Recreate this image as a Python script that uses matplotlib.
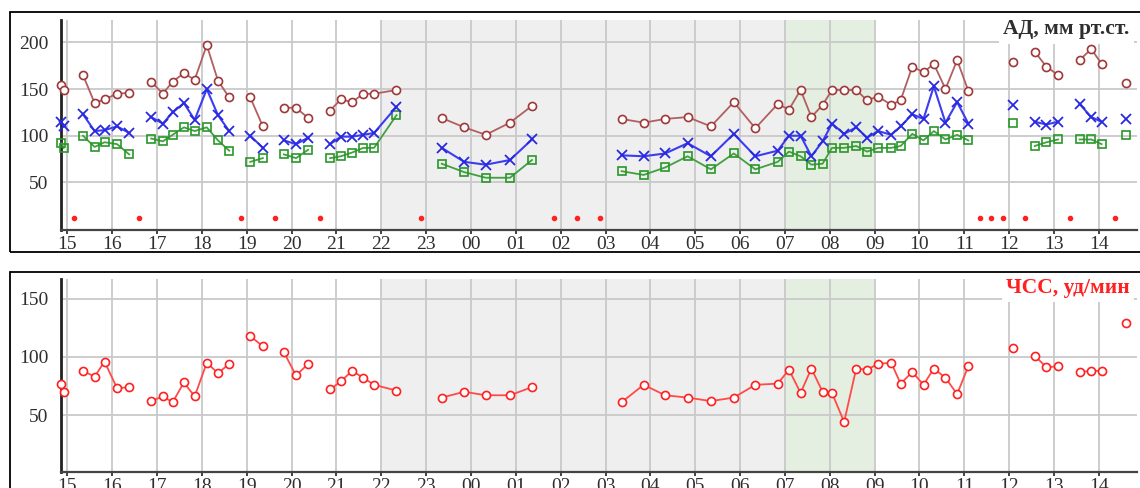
"""24-hour ambulatory blood pressure and heart rate monitoring chart."""

from __future__ import annotations

import matplotlib
import numpy as np

matplotlib.use("Agg")
from matplotlib import pyplot as plt  # noqa: E402
from matplotlib.patches import Rectangle  # noqa: E402

nan = float("nan")

# measurement times, hours from midnight of the first day (values > 24 are the next day)
times = [
    14.87, 14.92, 15.14, 15.35, 15.61, 15.83, 16.11, 16.38, 16.61, 16.87,
    17.13, 17.35, 17.60, 17.84, 18.11, 18.36, 18.61, 18.88, 19.08, 19.36,
    19.63, 19.83, 20.10, 20.37, 20.63, 20.86, 21.10, 21.35, 21.60, 21.84,
    22.34, 22.88, 23.35, 23.85, 24.33, 24.87, 25.36, 25.85, 26.36, 26.88,
    27.36, 27.85, 28.33, 28.83, 29.35, 29.86, 30.34, 30.84, 31.09, 31.35,
    31.59, 31.84, 32.05, 32.32, 32.59, 32.83, 33.08, 33.37, 33.58, 33.84,
    34.09, 34.32, 34.58, 34.84, 35.09, 35.34, 35.60, 35.86, 36.08, 36.36,
    36.57, 36.83, 37.09, 37.35, 37.57, 37.83, 38.06, 38.37, 38.60,
]
# nan = failed measurement
systolic = [
    154, 149, nan, 165, 135, 139, 145, 146, nan, 158,
    145, 158, 167, 160, 197, 159, 141, nan, 141, 110,
    nan, 130, 130, 119, nan, 127, 139, 136, 145, 145,
    149, nan, 119, 109, 101, 114, 132, nan, nan, nan,
    118, 114, 118, 120, 110, 136, 108, 134, 128, 149,
    120, 133, 149, 149, 149, 138, 142, 133, 138, 174,
    168, 177, 150, 181, 148, nan, nan, nan, 179, nan,
    190, 174, 165, nan, 181, 193, 177, nan, 156,
]
mean_pressure = [
    115, 110, nan, 123, 105, 106, 110, 103, nan, 120,
    113, 125, 135, 117, 150, 122, 105, nan, 100, 87,
    nan, 95, 91, 98, nan, 91, 99, 99, 101, 103,
    131, nan, 87, 72, 69, 74, 96, nan, nan, nan,
    79, 78, 81, 92, 78, 102, 78, 84, 100, 100,
    78, 94, 113, 102, 109, 98, 105, 101, 110, 123,
    118, 153, 114, 136, 113, nan, nan, nan, 133, nan,
    115, 112, 115, nan, 134, 120, 115, nan, 118,
]
diastolic = [
    92, 87, nan, 100, 88, 93, 91, 80, nan, 97,
    94, 101, 109, 105, 109, 95, 84, nan, 72, 76,
    nan, 80, 76, 85, nan, 76, 78, 82, 87, 87,
    122, nan, 70, 61, 55, 55, 74, nan, nan, nan,
    62, 58, 66, 78, 64, 81, 64, 72, 83, 78,
    69, 70, 87, 87, 89, 83, 87, 87, 89, 102,
    95, 105, 96, 101, 95, nan, nan, nan, 114, nan,
    89, 93, 96, nan, 96, 96, 91, nan, 101,
]
heart_rate = [
    77, 70, nan, 88, 83, 96, 73, 74, nan, 62,
    66, 61, 78, 66, 95, 86, 94, nan, 118, 109,
    nan, 104, 84, 94, nan, 72, 79, 88, 82, 76,
    71, nan, 65, 70, 67, 67, 74, nan, nan, nan,
    61, 76, 67, 65, 62, 65, 76, 77, 89, 69,
    90, 70, 69, 44, 90, 89, 94, 95, 77, 87,
    76, 90, 82, 68, 92, nan, nan, nan, 108, nan,
    101, 91, 92, nan, 87, 88, 88, nan, 129,
]
hour_ticks = list(range(15, 39))
night_period = (22, 31)
morning_period = (31, 33)
bp_ticks = [50, 100, 150, 200]
hr_ticks = [50, 100, 150]
bp_title = "АД, мм рт.ст."
hr_title = "ЧСС, уд/мин"

FONT = "Liberation Serif"
TEXT_COLOR = "#2e2e2e"
GRID_COLOR = "#c9c9c9"
FIG_W, FIG_H = 1140, 488


def _px_box(left: float, top: float, right: float, bottom: float) -> list[float]:
    return [left / FIG_W, 1 - bottom / FIG_H, (right - left) / FIG_W, (bottom - top) / FIG_H]


def _style_axes(ax: plt.Axes, yticks: list[int], ylim: tuple[float, float]) -> None:
    ax.axvspan(*night_period, color="#efefef", lw=0, zorder=0)
    ax.axvspan(*morning_period, color="#e4efe1", lw=0, zorder=0)
    ax.set_xlim(14.86, 38.85)
    ax.set_ylim(*ylim)
    ax.set_xticks(hour_ticks)
    ax.set_xticklabels([f"{h % 24:02d}" for h in hour_ticks])
    ax.set_yticks(yticks)
    ax.grid(True, color=GRID_COLOR, lw=1.3, zorder=1)
    ax.set_axisbelow(True)
    for side in ("top", "right"):
        ax.spines[side].set_visible(False)
    ax.spines["left"].set_color("#222222")
    ax.spines["left"].set_linewidth(2.0)
    ax.spines["bottom"].set_color("#444444")
    ax.spines["bottom"].set_linewidth(1.6)
    ax.tick_params(axis="x", length=3, width=1.2, color="#222222", pad=1, labelsize=14, labelcolor=TEXT_COLOR)
    ax.tick_params(axis="y", length=0, pad=9, labelsize=14, labelcolor=TEXT_COLOR)
    for label in ax.get_xticklabels() + ax.get_yticklabels():
        label.set_fontfamily(FONT)


def _corner_title(ax: plt.Axes, text: str, color: str) -> None:
    # white box hides the grid behind the label; data marks are drawn above it
    ax.text(
        0.993, 0.955, text, transform=ax.transAxes, ha="right", va="center",
        fontsize=15.5, fontweight="bold", fontfamily=FONT, color=color, zorder=2,
        bbox=dict(facecolor="white", edgecolor="none", pad=3),
    )


def main() -> None:
    t = np.array(times)
    sys_ = np.array(systolic, dtype=float)
    failed = t[np.isnan(sys_)]

    fig = plt.figure(figsize=(FIG_W / 100, FIG_H / 100), dpi=100)
    fig.add_artist(Rectangle((9.5 / FIG_W, 1 - 252 / FIG_H), 1.2, 240 / FIG_H,
                             transform=fig.transFigure, fill=False, ec="black", lw=1.3))
    fig.add_artist(Rectangle((9.5 / FIG_W, -0.2), 1.2, 0.2 + 1 - 272 / FIG_H,
                             transform=fig.transFigure, fill=False, ec="black", lw=1.3))

    ax_bp = fig.add_axes(_px_box(61, 20, 1137, 230))
    _style_axes(ax_bp, bp_ticks, (-1, 224))
    line_kw = dict(lw=1.3, ms=5.8, mew=1.2, clip_on=False, zorder=3)
    ax_bp.plot(t, systolic, color="#b06060", marker="o", mfc="white", mec="#a03838", **line_kw)
    ax_bp.plot(t, diastolic, color="#40a040", marker="s", mfc="none", mec="#2a962a", **line_kw)
    ax_bp.plot(t, mean_pressure, color="#3c3cf0", marker="x", mec="#2828e0",
               lw=1.5, ms=6.5, mew=1.3, clip_on=False, zorder=4)
    ax_bp.plot(failed, np.full(len(failed), 12.0), ls="none", marker="o", ms=3, color="#ff2020", zorder=3)
    _corner_title(ax_bp, bp_title, TEXT_COLOR)

    ax_hr = fig.add_axes(_px_box(61, 279, 1137, 472))
    _style_axes(ax_hr, hr_ticks, (1, 167))
    ax_hr.plot(t, heart_rate, color="#ff4a4a", marker="o", mfc="white", mec="#ff2020", **line_kw)
    _corner_title(ax_hr, hr_title, "#ff2020")

    fig.savefig("out.png", dpi=100)
    plt.close(fig)


if __name__ == "__main__":
    main()
